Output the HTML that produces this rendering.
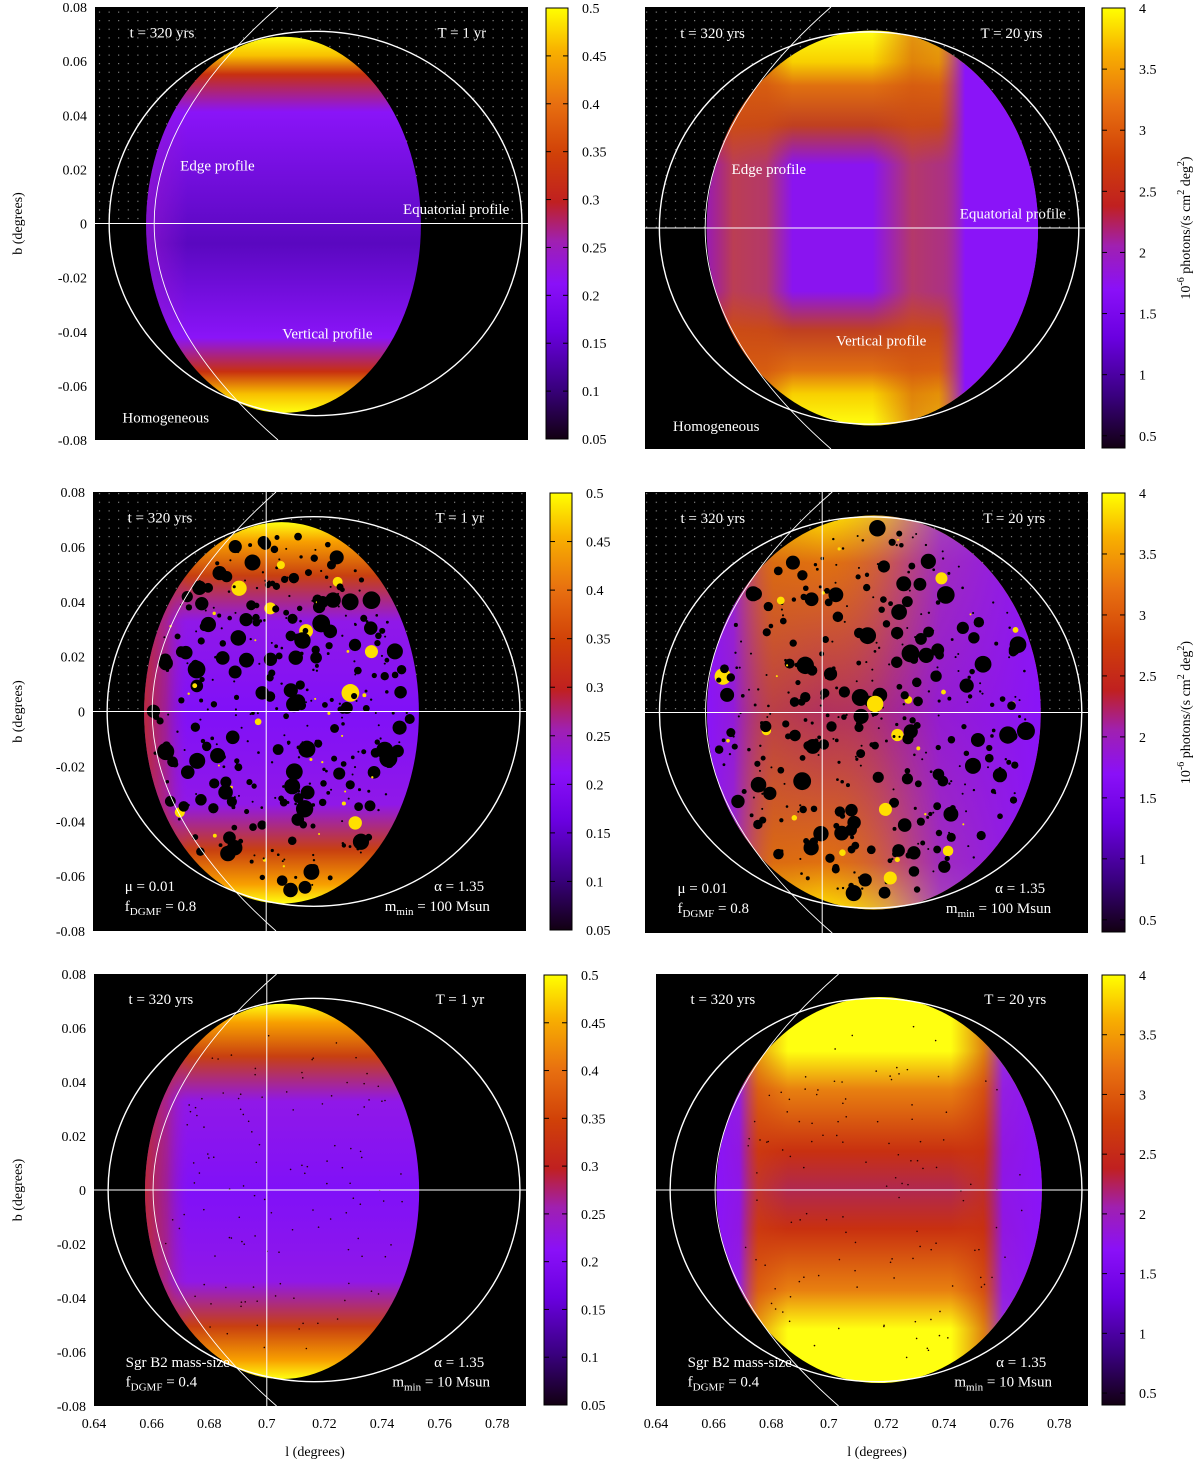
<!DOCTYPE html>
<html><head><meta charset="utf-8">
<style>
html,body{margin:0;padding:0;background:#fff;}
svg{display:block;font-family:"Liberation Serif",serif;}
</style></head>
<body>
<svg id="fig" width="1200" height="1463" viewBox="0 0 1200 1463" xmlns="http://www.w3.org/2000/svg">
<defs>
  <pattern id="dots" width="9.6" height="8.6" patternUnits="userSpaceOnUse">
    <rect x="3" y="3" width="1" height="1" fill="#bbb"/>
  </pattern>
  <linearGradient id="cbar" x1="0" y1="1" x2="0" y2="0">
    <stop offset="0" stop-color="#120012"/>
    <stop offset="0.12" stop-color="#3a0080"/>
    <stop offset="0.25" stop-color="#6a00e0"/>
    <stop offset="0.36" stop-color="#8a10f8"/>
    <stop offset="0.46" stop-color="#a020b0"/>
    <stop offset="0.55" stop-color="#c02020"/>
    <stop offset="0.66" stop-color="#d04008"/>
    <stop offset="0.78" stop-color="#e87010"/>
    <stop offset="0.9" stop-color="#f8b000"/>
    <stop offset="1" stop-color="#ffff00"/>
  </linearGradient>
  <linearGradient id="gLeftV" x1="0" y1="0" x2="0" y2="1">
    <stop offset="0" stop-color="#ffff10"/>
    <stop offset="0.05" stop-color="#f8c000"/>
    <stop offset="0.1" stop-color="#c83010"/>
    <stop offset="0.2" stop-color="#8a14f8"/>
    <stop offset="0.55" stop-color="#5a08c0"/>
    <stop offset="0.8" stop-color="#8a14f8"/>
    <stop offset="0.89" stop-color="#c83010"/>
    <stop offset="0.95" stop-color="#f8c000"/>
    <stop offset="1" stop-color="#ffff10"/>
  </linearGradient>
  <linearGradient id="gLeftV2" x1="0" y1="0" x2="0" y2="1">
    <stop offset="0" stop-color="#ffff10"/>
    <stop offset="0.05" stop-color="#f8a000"/>
    <stop offset="0.14" stop-color="#c84010"/>
    <stop offset="0.26" stop-color="#9018e8"/>
    <stop offset="0.5" stop-color="#8010f8"/>
    <stop offset="0.74" stop-color="#9018e8"/>
    <stop offset="0.86" stop-color="#c84010"/>
    <stop offset="0.95" stop-color="#f8a000"/>
    <stop offset="1" stop-color="#ffff10"/>
  </linearGradient>
  <linearGradient id="gSideL" x1="0" y1="0" x2="1" y2="0">
    <stop offset="0" stop-color="#c83010" stop-opacity="0.8"/>
    <stop offset="0.08" stop-color="#c83010" stop-opacity="0.4"/>
    <stop offset="0.16" stop-color="#9a18d0" stop-opacity="0"/>
    <stop offset="1" stop-color="#9a18d0" stop-opacity="0"/>
  </linearGradient>
  <linearGradient id="gSideL1" x1="0" y1="0" x2="1" y2="0">
    <stop offset="0" stop-color="#9a18d0" stop-opacity="0.6"/>
    <stop offset="0.15" stop-color="#9a18d0" stop-opacity="0"/>
    <stop offset="1" stop-color="#9a18d0" stop-opacity="0"/>
  </linearGradient>
  <linearGradient id="gRightV" x1="0" y1="0" x2="0" y2="1">
    <stop offset="0" stop-color="#ffff10"/>
    <stop offset="0.08" stop-color="#f8d000"/>
    <stop offset="0.14" stop-color="#e07010"/>
    <stop offset="0.24" stop-color="#c04020"/>
    <stop offset="0.34" stop-color="#8a14f0"/>
    <stop offset="0.66" stop-color="#8a14f0"/>
    <stop offset="0.76" stop-color="#c04020"/>
    <stop offset="0.86" stop-color="#e07010"/>
    <stop offset="0.92" stop-color="#f8d000"/>
    <stop offset="1" stop-color="#ffff10"/>
  </linearGradient>
  <linearGradient id="gSidesR1" x1="0" y1="0" x2="1" y2="0">
    <stop offset="0" stop-color="#c03020" stop-opacity="0.3"/>
    <stop offset="0.08" stop-color="#d05010" stop-opacity="0.7"/>
    <stop offset="0.18" stop-color="#d05010" stop-opacity="0.6"/>
    <stop offset="0.26" stop-color="#d05010" stop-opacity="0"/>
    <stop offset="0.5" stop-color="#d05010" stop-opacity="0"/>
    <stop offset="0.62" stop-color="#d05010" stop-opacity="0.6"/>
    <stop offset="0.7" stop-color="#d05010" stop-opacity="0.5"/>
    <stop offset="0.78" stop-color="#8a14f8" stop-opacity="1"/>
    <stop offset="1" stop-color="#8a14f8" stop-opacity="1"/>
  </linearGradient>
  <linearGradient id="gRightV3" x1="0" y1="0" x2="0" y2="1">
    <stop offset="0" stop-color="#ffff10"/>
    <stop offset="0.14" stop-color="#ffff10"/>
    <stop offset="0.24" stop-color="#e88010"/>
    <stop offset="0.4" stop-color="#c83010"/>
    <stop offset="0.5" stop-color="#b02850"/>
    <stop offset="0.6" stop-color="#c83010"/>
    <stop offset="0.76" stop-color="#e88010"/>
    <stop offset="0.86" stop-color="#ffff10"/>
    <stop offset="1" stop-color="#ffff10"/>
  </linearGradient>
  <linearGradient id="gRightV2" x1="0" y1="0" x2="0" y2="1">
    <stop offset="0" stop-color="#ffe000"/>
    <stop offset="0.12" stop-color="#e07010"/>
    <stop offset="0.5" stop-color="#b03060"/>
    <stop offset="0.88" stop-color="#e07010"/>
    <stop offset="1" stop-color="#ffe000"/>
  </linearGradient>
  <linearGradient id="gSides" x1="0" y1="0" x2="1" y2="0">
    <stop offset="0" stop-color="#8a14f8" stop-opacity="1"/>
    <stop offset="0.08" stop-color="#8a14f8" stop-opacity="0.8"/>
    <stop offset="0.2" stop-color="#d06010" stop-opacity="0.3"/>
    <stop offset="0.35" stop-color="#d06010" stop-opacity="0"/>
    <stop offset="0.55" stop-color="#8a14f8" stop-opacity="0.3"/>
    <stop offset="0.7" stop-color="#8a14f8" stop-opacity="0.75"/>
    <stop offset="1" stop-color="#8a14f8" stop-opacity="1"/>
  </linearGradient>
  <linearGradient id="gSides3" x1="0" y1="0" x2="1" y2="0">
    <stop offset="0" stop-color="#8a14f8" stop-opacity="1"/>
    <stop offset="0.07" stop-color="#8a14f8" stop-opacity="0.9"/>
    <stop offset="0.13" stop-color="#d04010" stop-opacity="0.5"/>
    <stop offset="0.22" stop-color="#d04010" stop-opacity="0"/>
    <stop offset="0.72" stop-color="#d04010" stop-opacity="0"/>
    <stop offset="0.82" stop-color="#c83010" stop-opacity="0.6"/>
    <stop offset="0.88" stop-color="#8a14f8" stop-opacity="0.9"/>
    <stop offset="1" stop-color="#8a14f8" stop-opacity="1"/>
  </linearGradient>
</defs>
</svg>
<script>
// ---- data arrays ----
const lTicks = [0.64, 0.66, 0.68, 0.7, 0.72, 0.74, 0.76, 0.78];
const lTickLabels = ["0.64","0.66","0.68","0.7","0.72","0.74","0.76","0.78"];
const bTicks = [0.08, 0.06, 0.04, 0.02, 0, -0.02, -0.04, -0.06, -0.08];
const bTickLabels = ["0.08","0.06","0.04","0.02","0","-0.02","-0.04","-0.06","-0.08"];
const cbLeftTicks = [0.05, 0.1, 0.15, 0.2, 0.25, 0.3, 0.35, 0.4, 0.45, 0.5];
const cbLeftLabels = ["0.05","0.1","0.15","0.2","0.25","0.3","0.35","0.4","0.45","0.5"];
const cbRightTicks = [0.5, 1, 1.5, 2, 2.5, 3, 3.5, 4];
const cbRightLabels = ["0.5","1","1.5","2","2.5","3","3.5","4"];
const lRange = [0.64, 0.79];
const bRange = [-0.08, 0.08];
// emission region (ellipse) per panel, degrees: [centre l, centre b, half-width l, half-height b]
const shellLeft = [0.7053, -0.0005, 0.0476, 0.0695];
const shellRight = [0.7175, 0.0, 0.0565, 0.0715];
// outer circle, degrees
const outerCircle = [0.7164, 0.0, 0.0715, 0.071];
// arc through (l,b) points
const arcPts = [[0.7034, 0.08], [0.6605, 0.0], [0.7034, -0.08]];

const NS = "http://www.w3.org/2000/svg";
const svg = document.getElementById('fig');
function mk(tag, attrs, parent) {
  const e = document.createElementNS(NS, tag);
  for (const k in attrs) e.setAttribute(k, attrs[k]);
  (parent || svg).appendChild(e);
  return e;
}
function txt(str, x, y, size, anchor, parent, fill) {
  const t = mk('text', {x: x, y: y, 'font-size': size, 'text-anchor': anchor || 'start', fill: fill || '#000'}, parent);
  t.textContent = str;
  return t;
}

const panels = [
  {id:'homog-1yr', x0:95, x1:528, y0:7, y1:440, side:'L', cb:[546,568], grad:'gLeftV', over:'gSideL1', dots:true, vline:false},
  {id:'homog-20yr', x0:645, x1:1085, y0:7, y1:449, side:'R', cb:[1102,1125], grad:'gRightV', over:'gSidesR1', dots:true, vline:false},
  {id:'clumpy-1yr', x0:93, x1:526, y0:492, y1:931, side:'L', cb:[550,572], grad:'gLeftV2', over:'gSideL', dots:true, vline:true, holes:true},
  {id:'clumpy-20yr', x0:645, x1:1088, y0:492, y1:933, side:'R', cb:[1102,1125], grad:'gRightV2', over:'gSides', dots:true, vline:true, holes:true},
  {id:'sgrb2-1yr', x0:94, x1:526, y0:974, y1:1406, side:'L', cb:[544,567], grad:'gLeftV2', over:'gSideL', dots:false, vline:true},
  {id:'sgrb2-20yr', x0:656, x1:1088, y0:974, y1:1406, side:'R', cb:[1102,1125], grad:'gRightV3', over:'gSides3', dots:false, vline:false}
];

let seed = 7;
function rnd(){ seed = (seed*16807) % 2147483647; return seed/2147483647; }

panels.forEach((p, i) => {
  const g = mk('g', {});
  
  
  const xs = l => p.x0 + (l - lRange[0]) / (lRange[1] - lRange[0]) * (p.x1 - p.x0);
  const ys = b => p.y1 - (b - bRange[0]) / (bRange[1] - bRange[0]) * (p.y1 - p.y0);
  const W = p.x1 - p.x0, H = p.y1 - p.y0;
  const bg = mk('rect', {x:p.x0, y:p.y0, width:W, height:H, fill:'#000'}, g);
  
  
  if (p.dots) {
    mk('rect', {x:p.x0, y:p.y0, width:W, height:ys(0)-p.y0, fill:'url(#dots)'}, g);
  }
  const sh = p.side === 'L' ? shellLeft : shellRight;
  const cx = xs(sh[0]), cy = ys(sh[1]), rx = xs(sh[0]+sh[2]) - cx, ry = cy - ys(sh[1]+sh[3]);
  const em = mk('ellipse', {cx:cx, cy:cy, rx:rx, ry:ry, fill:'url(#' + p.grad + ')'}, g);
  
  
  mk('ellipse', {cx:cx, cy:cy, rx:rx, ry:ry, fill:'url(#' + p.over + ')'}, g);
  if (p.holes) {
    const n = 420;
    for (let k = 0; k < n; k++) {
      const a = rnd()*Math.PI*2, r = Math.sqrt(rnd());
      const hx = cx + Math.cos(a)*r*rx*0.95, hy = cy + Math.sin(a)*r*ry*0.95;
      const rr = 1 + Math.pow(rnd(), 3) * 8;
      mk('circle', {cx:hx, cy:hy, r:rr, fill: rnd() < 0.07 ? '#ffe000' : '#000'}, g);
    }
  }
  if (p.id === 'sgrb2-1yr' || p.id === 'sgrb2-20yr') {
    for (let k = 0; k < 120; k++) {
      const a = rnd()*Math.PI*2, r = Math.sqrt(rnd());
      mk('circle', {cx:cx + Math.cos(a)*r*rx*0.9, cy:cy + Math.sin(a)*r*ry*0.9, r:0.8, fill:'#200'}, g);
    }
  }
  const oc = mk('ellipse', {cx:xs(outerCircle[0]), cy:ys(outerCircle[1]), rx:xs(outerCircle[0]+outerCircle[2])-xs(outerCircle[0]), ry:ys(outerCircle[1])-ys(outerCircle[1]+outerCircle[3]), fill:'none', stroke:'#fff', 'stroke-width':1.4}, g);
  
  
  const A = arcPts.map(q => [xs(q[0]), ys(q[1])]);
  const ctrlX = 2*A[1][0] - (A[0][0]+A[2][0])/2;
  const arc = mk('path', {d:'M'+A[0][0]+','+A[0][1]+' Q'+ctrlX+','+A[1][1]+' '+A[2][0]+','+A[2][1], fill:'none', stroke:'#fff', 'stroke-width':0.9}, g);
  
  
  const hl = mk('line', {x1:p.x0, y1:ys(0), x2:p.x1, y2:ys(0), stroke:'#fff', 'stroke-width':1}, g);
  
  
  if (p.vline) {
    const vl = mk('line', {x1:xs(0.7), y1:p.y0, x2:xs(0.7), y2:p.y1, stroke:'#fff', 'stroke-width':1}, g);
    
    
  }
  const fs = 15;
  const t1 = txt('t = 320 yrs', xs(0.652), ys(0.0688), fs, 'start', g, '#fff');
  
  
  const t2 = txt(p.side === 'L' ? 'T = 1 yr' : 'T = 20 yrs', xs(0.7755), ys(0.0688), fs, 'end', g, '#fff');
  
  
  if (i < 2) {
    const labs = [['Edge profile', 0.6695, 0.0195, 'start'], ['Equatorial profile', 0.7835, 0.0035, 'end'], ['Vertical profile', 0.7205, -0.0425, 'middle'], ['Homogeneous', 0.6495, -0.0735, 'start']];
    labs.forEach(L => {
      const t = txt(L[0], xs(L[1]), ys(L[2]), fs, L[3], g, '#fff');
      
      
    });
  } else {
    const topL = i < 4 ? '\u03bc = 0.01' : 'Sgr B2 mass-size';
    const f = i < 4 ? '= 0.8' : '= 0.4';
    const mmin = i < 4 ? ' = 100 Msun' : ' = 10 Msun';
    const a = txt(topL, xs(0.651), ys(-0.0655), fs, 'start', g, '#fff');
    
    
    const b = mk('text', {x:xs(0.651), y:ys(-0.0728), 'font-size':fs, fill:'#fff'}, g);
    
    
    b.innerHTML = 'f<tspan font-size="11" dy="4">DGMF</tspan><tspan dy="-4"> ' + f + '</tspan>';
    const c = txt('\u03b1 = 1.35', xs(0.7755), ys(-0.0655), fs, 'end', g, '#fff');
    
    
    const d = mk('text', {x:xs(0.7775), y:ys(-0.0728), 'font-size':fs, fill:'#fff', 'text-anchor':'end'}, g);
    
    
    d.innerHTML = 'm<tspan font-size="11" dy="4">min</tspan><tspan dy="-4">' + mmin + '</tspan>';
  }
  if (p.side === 'L') {
    bTicks.forEach((b, k) => {
      const t = txt(bTickLabels[k], p.x0 - 8, ys(b) + 5, 14, 'end', g);
      
      
    });
    const yl = txt('b (degrees)', 0, 0, 14, 'middle', g);
    yl.setAttribute('transform', 'translate(22,' + ys(0) + ') rotate(-90)');
    
    
  }
  if (i >= 4) {
    lTicks.forEach((l, k) => {
      const t = txt(lTickLabels[k], xs(l), p.y1 + 22, 14, 'middle', g);
      
      
    });
    const xl = txt('l (degrees)', (p.x0 + p.x1) / 2 + 5, p.y1 + 50, 14, 'middle', g);
    
    
  }
  const ticks = p.side === 'L' ? cbLeftTicks : cbRightTicks;
  const labels = p.side === 'L' ? cbLeftLabels : cbRightLabels;
  const vmin = p.side === 'L' ? 0.05 : 0.4, vmax = p.side === 'L' ? 0.5 : 4.0;
  const cy0 = p.y0 + 1, cy1 = p.y1 - 1;
  const cs = v => cy1 - (v - vmin) / (vmax - vmin) * (cy1 - cy0);
  const cb = mk('rect', {x:p.cb[0], y:cy0, width:p.cb[1]-p.cb[0], height:cy1-cy0, fill:'url(#cbar)', stroke:'#000', 'stroke-width':1}, g);
  
  
  ticks.forEach((v, k) => {
    const y = cs(v);
    mk('line', {x1:p.cb[0], y1:y, x2:p.cb[0]+5, y2:y, stroke:'#000', 'stroke-width':1}, g);
    mk('line', {x1:p.cb[1]-5, y1:y, x2:p.cb[1], y2:y, stroke:'#000', 'stroke-width':1}, g);
    const t = txt(labels[k], p.cb[1] + 14, y + 5, 14, 'start', g);
    
    
  });
  if (p.side === 'R' && i < 4) {
    const u = mk('text', {'font-size':14, 'text-anchor':'middle', transform:'translate(1190,' + ((p.y0+p.y1)/2) + ') rotate(-90)'}, g);
    
    
    u.innerHTML = '10<tspan font-size="10" dy="-6">-6</tspan><tspan dy="6"> photons/(s cm</tspan><tspan font-size="10" dy="-6">2</tspan><tspan dy="6"> deg</tspan><tspan font-size="10" dy="-6">2</tspan><tspan dy="6">)</tspan>';
  }
});
</script>
</body></html>
